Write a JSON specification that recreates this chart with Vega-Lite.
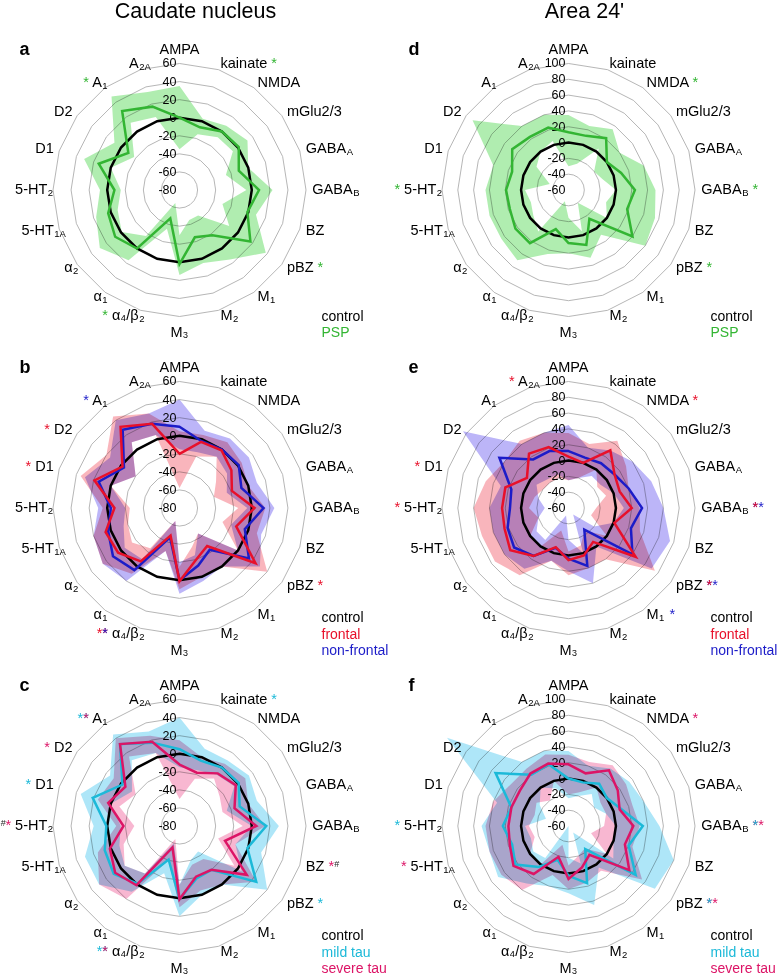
{
"$schema":"https://vega.github.io/schema/vega-lite/v6.json",
"padding":0,
"background":"white",
"config":{"view":{"stroke":null},"text":{"font":"Liberation Sans"}},
"datasets":{"axes":[
{"i":0,"lab":"AMPA","sub":""},{"i":1,"lab":"kainate","sub":""},{"i":2,"lab":"NMDA","sub":""},{"i":3,"lab":"mGlu2/3","sub":""},
{"i":4,"lab":"GABA","sub":"A"},{"i":5,"lab":"GABA","sub":"B"},{"i":6,"lab":"BZ","sub":""},{"i":7,"lab":"pBZ","sub":""},
{"i":8,"lab":"M","sub":"1"},{"i":9,"lab":"M","sub":"2"},{"i":10,"lab":"M\u2083","sub":""},{"i":11,"lab":"\u03b1\u2084/\u03b2","sub":"2"},
{"i":12,"lab":"\u03b1","sub":"1"},{"i":13,"lab":"\u03b1","sub":"2"},{"i":14,"lab":"5-HT","sub":"1A"},{"i":15,"lab":"5-HT","sub":"2"},
{"i":16,"lab":"D1","sub":""},{"i":17,"lab":"D2","sub":""},{"i":18,"lab":"A","sub":"1"},{"i":19,"lab":"A","sub":"2A"}
]},
"data":{"values":[
{"p":"a","s":"control","i":0,"m":0},{"p":"a","s":"control","i":1,"m":0},{"p":"a","s":"control","i":2,"m":0},{"p":"a","s":"control","i":3,"m":0},{"p":"a","s":"control","i":4,"m":0},{"p":"a","s":"control","i":5,"m":0},{"p":"a","s":"control","i":6,"m":0},{"p":"a","s":"control","i":7,"m":0},{"p":"a","s":"control","i":8,"m":0},{"p":"a","s":"control","i":9,"m":0},{"p":"a","s":"control","i":10,"m":0},{"p":"a","s":"control","i":11,"m":0},{"p":"a","s":"control","i":12,"m":0},{"p":"a","s":"control","i":13,"m":0},{"p":"a","s":"control","i":14,"m":0},{"p":"a","s":"control","i":15,"m":0},{"p":"a","s":"control","i":16,"m":0},{"p":"a","s":"control","i":17,"m":0},{"p":"a","s":"control","i":18,"m":0},{"p":"a","s":"control","i":19,"m":0},
{"p":"b","s":"control","i":0,"m":0},{"p":"b","s":"control","i":1,"m":0},{"p":"b","s":"control","i":2,"m":0},{"p":"b","s":"control","i":3,"m":0},{"p":"b","s":"control","i":4,"m":0},{"p":"b","s":"control","i":5,"m":0},{"p":"b","s":"control","i":6,"m":0},{"p":"b","s":"control","i":7,"m":0},{"p":"b","s":"control","i":8,"m":0},{"p":"b","s":"control","i":9,"m":0},{"p":"b","s":"control","i":10,"m":0},{"p":"b","s":"control","i":11,"m":0},{"p":"b","s":"control","i":12,"m":0},{"p":"b","s":"control","i":13,"m":0},{"p":"b","s":"control","i":14,"m":0},{"p":"b","s":"control","i":15,"m":0},{"p":"b","s":"control","i":16,"m":0},{"p":"b","s":"control","i":17,"m":0},{"p":"b","s":"control","i":18,"m":0},{"p":"b","s":"control","i":19,"m":0},
{"p":"c","s":"control","i":0,"m":0},{"p":"c","s":"control","i":1,"m":0},{"p":"c","s":"control","i":2,"m":0},{"p":"c","s":"control","i":3,"m":0},{"p":"c","s":"control","i":4,"m":0},{"p":"c","s":"control","i":5,"m":0},{"p":"c","s":"control","i":6,"m":0},{"p":"c","s":"control","i":7,"m":0},{"p":"c","s":"control","i":8,"m":0},{"p":"c","s":"control","i":9,"m":0},{"p":"c","s":"control","i":10,"m":0},{"p":"c","s":"control","i":11,"m":0},{"p":"c","s":"control","i":12,"m":0},{"p":"c","s":"control","i":13,"m":0},{"p":"c","s":"control","i":14,"m":0},{"p":"c","s":"control","i":15,"m":0},{"p":"c","s":"control","i":16,"m":0},{"p":"c","s":"control","i":17,"m":0},{"p":"c","s":"control","i":18,"m":0},{"p":"c","s":"control","i":19,"m":0},
{"p":"d","s":"control","i":0,"m":0},{"p":"d","s":"control","i":1,"m":0},{"p":"d","s":"control","i":2,"m":0},{"p":"d","s":"control","i":3,"m":0},{"p":"d","s":"control","i":4,"m":0},{"p":"d","s":"control","i":5,"m":0},{"p":"d","s":"control","i":6,"m":0},{"p":"d","s":"control","i":7,"m":0},{"p":"d","s":"control","i":8,"m":0},{"p":"d","s":"control","i":9,"m":0},{"p":"d","s":"control","i":10,"m":0},{"p":"d","s":"control","i":11,"m":0},{"p":"d","s":"control","i":12,"m":0},{"p":"d","s":"control","i":13,"m":0},{"p":"d","s":"control","i":14,"m":0},{"p":"d","s":"control","i":15,"m":0},{"p":"d","s":"control","i":16,"m":0},{"p":"d","s":"control","i":17,"m":0},{"p":"d","s":"control","i":18,"m":0},{"p":"d","s":"control","i":19,"m":0},
{"p":"e","s":"control","i":0,"m":0},{"p":"e","s":"control","i":1,"m":0},{"p":"e","s":"control","i":2,"m":0},{"p":"e","s":"control","i":3,"m":0},{"p":"e","s":"control","i":4,"m":0},{"p":"e","s":"control","i":5,"m":0},{"p":"e","s":"control","i":6,"m":0},{"p":"e","s":"control","i":7,"m":0},{"p":"e","s":"control","i":8,"m":0},{"p":"e","s":"control","i":9,"m":0},{"p":"e","s":"control","i":10,"m":0},{"p":"e","s":"control","i":11,"m":0},{"p":"e","s":"control","i":12,"m":0},{"p":"e","s":"control","i":13,"m":0},{"p":"e","s":"control","i":14,"m":0},{"p":"e","s":"control","i":15,"m":0},{"p":"e","s":"control","i":16,"m":0},{"p":"e","s":"control","i":17,"m":0},{"p":"e","s":"control","i":18,"m":0},{"p":"e","s":"control","i":19,"m":0},
{"p":"f","s":"control","i":0,"m":0},{"p":"f","s":"control","i":1,"m":0},{"p":"f","s":"control","i":2,"m":0},{"p":"f","s":"control","i":3,"m":0},{"p":"f","s":"control","i":4,"m":0},{"p":"f","s":"control","i":5,"m":0},{"p":"f","s":"control","i":6,"m":0},{"p":"f","s":"control","i":7,"m":0},{"p":"f","s":"control","i":8,"m":0},{"p":"f","s":"control","i":9,"m":0},{"p":"f","s":"control","i":10,"m":0},{"p":"f","s":"control","i":11,"m":0},{"p":"f","s":"control","i":12,"m":0},{"p":"f","s":"control","i":13,"m":0},{"p":"f","s":"control","i":14,"m":0},{"p":"f","s":"control","i":15,"m":0},{"p":"f","s":"control","i":16,"m":0},{"p":"f","s":"control","i":17,"m":0},{"p":"f","s":"control","i":18,"m":0},{"p":"f","s":"control","i":19,"m":0},

{"p":"a","s":"PSP","i":0,"m":0,"lo":-35,"hi":35},{"p":"a","s":"PSP","i":1,"m":-7,"lo":-15,"hi":3},{"p":"a","s":"PSP","i":2,"m":0,"lo":-8,"hi":8},{"p":"a","s":"PSP","i":3,"m":1,"lo":-7,"hi":13},{"p":"a","s":"PSP","i":4,"m":-11,"lo":-26,"hi":0},{"p":"a","s":"PSP","i":5,"m":8,"lo":-6,"hi":23},{"p":"a","s":"PSP","i":6,"m":-1,"lo":-30,"hi":9},{"p":"a","s":"PSP","i":7,"m":17,"lo":-12,"hi":38},{"p":"a","s":"PSP","i":8,"m":-18,"lo":-45,"hi":15},{"p":"a","s":"PSP","i":9,"m":-25,"lo":-45,"hi":5},{"p":"a","s":"PSP","i":10,"m":2,"lo":-30,"hi":14},{"p":"a","s":"PSP","i":11,"m":-47,"lo":-65,"hi":-35},{"p":"a","s":"PSP","i":12,"m":0,"lo":-17,"hi":16},{"p":"a","s":"PSP","i":13,"m":8,"lo":-1,"hi":29},{"p":"a","s":"PSP","i":14,"m":3,"lo":-8,"hi":17},{"p":"a","s":"PSP","i":15,"m":-8,"lo":-15,"hi":8},{"p":"a","s":"PSP","i":16,"m":14,"lo":0,"hi":31},{"p":"a","s":"PSP","i":17,"m":-10,"lo":-18,"hi":9},{"p":"a","s":"PSP","i":18,"m":28,"lo":12,"hi":48},{"p":"a","s":"PSP","i":19,"m":17,"lo":5,"hi":34},

{"p":"d","s":"PSP","i":0,"m":13,"lo":-30,"hi":35},{"p":"d","s":"PSP","i":1,"m":12,"lo":-25,"hi":25},{"p":"d","s":"PSP","i":2,"m":21,"lo":5,"hi":35},{"p":"d","s":"PSP","i":3,"m":0,"lo":-20,"hi":20},{"p":"d","s":"PSP","i":4,"m":10,"lo":-15,"hi":40},{"p":"d","s":"PSP","i":5,"m":24,"lo":0,"hi":50},{"p":"d","s":"PSP","i":6,"m":18,"lo":-10,"hi":55},{"p":"d","s":"PSP","i":7,"m":40,"lo":0,"hi":60},{"p":"d","s":"PSP","i":8,"m":-15,"lo":-40,"hi":10},{"p":"d","s":"PSP","i":9,"m":13,"lo":-5,"hi":30},{"p":"d","s":"PSP","i":10,"m":7,"lo":-25,"hi":20},{"p":"d","s":"PSP","i":11,"m":-8,"lo":-45,"hi":25},{"p":"d","s":"PSP","i":12,"m":23,"lo":5,"hi":50},{"p":"d","s":"PSP","i":13,"m":23,"lo":-5,"hi":45},{"p":"d","s":"PSP","i":14,"m":18,"lo":-10,"hi":45},{"p":"d","s":"PSP","i":15,"m":19,"lo":-5,"hi":45},{"p":"d","s":"PSP","i":16,"m":15,"lo":-35,"hi":40},{"p":"d","s":"PSP","i":17,"m":28,"lo":-10,"hi":90},{"p":"d","s":"PSP","i":18,"m":23,"lo":0,"hi":40},{"p":"d","s":"PSP","i":19,"m":23,"lo":5,"hi":40},

{"p":"b","s":"frontal","i":0,"m":-20,"lo":-58,"hi":5},{"p":"b","s":"frontal","i":1,"m":-3,"lo":-20,"hi":5},{"p":"b","s":"frontal","i":2,"m":-1,"lo":-10,"hi":10},{"p":"b","s":"frontal","i":3,"m":-9,"lo":-30,"hi":5},{"p":"b","s":"frontal","i":4,"m":-19,"lo":-40,"hi":0},{"p":"b","s":"frontal","i":5,"m":3,"lo":-15,"hi":15},{"p":"b","s":"frontal","i":6,"m":-14,"lo":-30,"hi":10},{"p":"b","s":"frontal","i":7,"m":24,"lo":0,"hi":40},{"p":"b","s":"frontal","i":8,"m":-28,"lo":-45,"hi":0},{"p":"b","s":"frontal","i":9,"m":-20,"lo":-35,"hi":0},{"p":"b","s":"frontal","i":10,"m":1,"lo":-15,"hi":10},{"p":"b","s":"frontal","i":11,"m":-48,"lo":-65,"hi":-30},{"p":"b","s":"frontal","i":12,"m":-7,"lo":-25,"hi":10},{"p":"b","s":"frontal","i":13,"m":4,"lo":-15,"hi":25},{"p":"b","s":"frontal","i":14,"m":6,"lo":-20,"hi":20},{"p":"b","s":"frontal","i":15,"m":-8,"lo":-25,"hi":5},{"p":"b","s":"frontal","i":16,"m":19,"lo":0,"hi":35},{"p":"b","s":"frontal","i":17,"m":-2,"lo":-20,"hi":20},{"p":"b","s":"frontal","i":18,"m":31,"lo":10,"hi":45},{"p":"b","s":"frontal","i":19,"m":18,"lo":5,"hi":30},

{"p":"b","s":"non-frontal","i":0,"m":10,"lo":-15,"hi":40},{"p":"b","s":"non-frontal","i":1,"m":-2,"lo":-15,"hi":10},{"p":"b","s":"non-frontal","i":2,"m":0,"lo":-10,"hi":15},{"p":"b","s":"non-frontal","i":3,"m":1,"lo":-15,"hi":15},{"p":"b","s":"non-frontal","i":4,"m":-8,"lo":-25,"hi":10},{"p":"b","s":"non-frontal","i":5,"m":13,"lo":-5,"hi":25},{"p":"b","s":"non-frontal","i":6,"m":-4,"lo":-20,"hi":15},{"p":"b","s":"non-frontal","i":7,"m":15,"lo":0,"hi":30},{"p":"b","s":"non-frontal","i":8,"m":-23,"lo":-45,"hi":0},{"p":"b","s":"non-frontal","i":9,"m":-13,"lo":-25,"hi":5},{"p":"b","s":"non-frontal","i":10,"m":0,"lo":-20,"hi":15},{"p":"b","s":"non-frontal","i":11,"m":-46,"lo":-65,"hi":-30},{"p":"b","s":"non-frontal","i":12,"m":5,"lo":-10,"hi":20},{"p":"b","s":"non-frontal","i":13,"m":11,"lo":-5,"hi":25},{"p":"b","s":"non-frontal","i":14,"m":3,"lo":-15,"hi":20},{"p":"b","s":"non-frontal","i":15,"m":-4,"lo":-20,"hi":10},{"p":"b","s":"non-frontal","i":16,"m":14,"lo":0,"hi":30},{"p":"b","s":"non-frontal","i":17,"m":-4,"lo":-20,"hi":15},{"p":"b","s":"non-frontal","i":18,"m":27,"lo":10,"hi":40},{"p":"b","s":"non-frontal","i":19,"m":18,"lo":5,"hi":30},

{"p":"e","s":"frontal","i":0,"m":5,"lo":-25,"hi":35},{"p":"e","s":"frontal","i":1,"m":0,"lo":-20,"hi":25},{"p":"e","s":"frontal","i":2,"m":30,"lo":0,"hi":45},{"p":"e","s":"frontal","i":3,"m":12,"lo":-15,"hi":30},{"p":"e","s":"frontal","i":4,"m":8,"lo":-10,"hi":20},{"p":"e","s":"frontal","i":5,"m":20,"lo":-25,"hi":30},{"p":"e","s":"frontal","i":6,"m":1,"lo":-30,"hi":35},{"p":"e","s":"frontal","i":7,"m":45,"lo":0,"hi":75},{"p":"e","s":"frontal","i":8,"m":-7,"lo":-25,"hi":20},{"p":"e","s":"frontal","i":9,"m":3,"lo":-10,"hi":20},{"p":"e","s":"frontal","i":10,"m":6,"lo":-5,"hi":25},{"p":"e","s":"frontal","i":11,"m":-8,"lo":-30,"hi":10},{"p":"e","s":"frontal","i":12,"m":15,"lo":0,"hi":45},{"p":"e","s":"frontal","i":13,"m":31,"lo":0,"hi":55},{"p":"e","s":"frontal","i":14,"m":25,"lo":-20,"hi":55},{"p":"e","s":"frontal","i":15,"m":24,"lo":-10,"hi":60},{"p":"e","s":"frontal","i":16,"m":24,"lo":-15,"hi":50},{"p":"e","s":"frontal","i":17,"m":5,"lo":-20,"hi":40},{"p":"e","s":"frontal","i":18,"m":25,"lo":-20,"hi":45},{"p":"e","s":"frontal","i":19,"m":21,"lo":-20,"hi":40},

{"p":"e","s":"non-frontal","i":0,"m":12,"lo":-25,"hi":45},{"p":"e","s":"non-frontal","i":1,"m":7,"lo":-20,"hi":20},{"p":"e","s":"non-frontal","i":2,"m":10,"lo":-10,"hi":30},{"p":"e","s":"non-frontal","i":3,"m":12,"lo":-10,"hi":40},{"p":"e","s":"non-frontal","i":4,"m":20,"lo":0,"hi":50},{"p":"e","s":"non-frontal","i":5,"m":33,"lo":10,"hi":60},{"p":"e","s":"non-frontal","i":6,"m":23,"lo":0,"hi":75},{"p":"e","s":"non-frontal","i":7,"m":40,"lo":-20,"hi":70},{"p":"e","s":"non-frontal","i":8,"m":-26,"lo":-50,"hi":0},{"p":"e","s":"non-frontal","i":9,"m":17,"lo":0,"hi":40},{"p":"e","s":"non-frontal","i":10,"m":4,"lo":-20,"hi":20},{"p":"e","s":"non-frontal","i":11,"m":-7,"lo":-50,"hi":10},{"p":"e","s":"non-frontal","i":12,"m":15,"lo":-10,"hi":35},{"p":"e","s":"non-frontal","i":13,"m":25,"lo":-10,"hi":40},{"p":"e","s":"non-frontal","i":14,"m":21,"lo":-20,"hi":40},{"p":"e","s":"non-frontal","i":15,"m":14,"lo":-30,"hi":40},{"p":"e","s":"non-frontal","i":16,"m":16,"lo":-20,"hi":30},{"p":"e","s":"non-frontal","i":17,"m":48,"lo":-10,"hi":105},{"p":"e","s":"non-frontal","i":18,"m":16,"lo":-15,"hi":40},{"p":"e","s":"non-frontal","i":19,"m":16,"lo":-15,"hi":40},

{"p":"c","s":"mild tau","i":0,"m":5,"lo":-15,"hi":40},{"p":"c","s":"mild tau","i":1,"m":-4,"lo":-15,"hi":10},{"p":"c","s":"mild tau","i":2,"m":0,"lo":-10,"hi":10},{"p":"c","s":"mild tau","i":3,"m":1,"lo":-5,"hi":15},{"p":"c","s":"mild tau","i":4,"m":-10,"lo":-25,"hi":10},{"p":"c","s":"mild tau","i":5,"m":16,"lo":0,"hi":30},{"p":"c","s":"mild tau","i":6,"m":-1,"lo":-15,"hi":15},{"p":"c","s":"mild tau","i":7,"m":25,"lo":5,"hi":40},{"p":"c","s":"mild tau","i":8,"m":-20,"lo":-45,"hi":0},{"p":"c","s":"mild tau","i":9,"m":-19,"lo":-40,"hi":0},{"p":"c","s":"mild tau","i":10,"m":1,"lo":-15,"hi":20},{"p":"c","s":"mild tau","i":11,"m":-41,"lo":-60,"hi":-25},{"p":"c","s":"mild tau","i":12,"m":-1,"lo":-15,"hi":10},{"p":"c","s":"mild tau","i":13,"m":10,"lo":-5,"hi":30},{"p":"c","s":"mild tau","i":14,"m":7,"lo":-10,"hi":30},{"p":"c","s":"mild tau","i":15,"m":1,"lo":-15,"hi":15},{"p":"c","s":"mild tau","i":16,"m":21,"lo":0,"hi":35},{"p":"c","s":"mild tau","i":17,"m":-2,"lo":-15,"hi":15},{"p":"c","s":"mild tau","i":18,"m":32,"lo":10,"hi":45},{"p":"c","s":"mild tau","i":19,"m":17,"lo":5,"hi":30},

{"p":"c","s":"severe tau","i":0,"m":-12,"lo":-50,"hi":15},{"p":"c","s":"severe tau","i":1,"m":-18,"lo":-25,"hi":0},{"p":"c","s":"severe tau","i":2,"m":-8,"lo":-15,"hi":5},{"p":"c","s":"severe tau","i":3,"m":-3,"lo":-25,"hi":10},{"p":"c","s":"severe tau","i":4,"m":-16,"lo":-30,"hi":0},{"p":"c","s":"severe tau","i":5,"m":5,"lo":-10,"hi":15},{"p":"c","s":"severe tau","i":6,"m":-27,"lo":-35,"hi":-15},{"p":"c","s":"severe tau","i":7,"m":12,"lo":-5,"hi":25},{"p":"c","s":"severe tau","i":8,"m":-20,"lo":-35,"hi":0},{"p":"c","s":"severe tau","i":9,"m":-21,"lo":-35,"hi":-5},{"p":"c","s":"severe tau","i":10,"m":1,"lo":-15,"hi":10},{"p":"c","s":"severe tau","i":11,"m":-55,"lo":-65,"hi":-40},{"p":"c","s":"severe tau","i":12,"m":1,"lo":-15,"hi":20},{"p":"c","s":"severe tau","i":13,"m":8,"lo":-5,"hi":30},{"p":"c","s":"severe tau","i":14,"m":1,"lo":-15,"hi":15},{"p":"c","s":"severe tau","i":15,"m":-18,"lo":-30,"hi":-10},{"p":"c","s":"severe tau","i":16,"m":3,"lo":-10,"hi":15},{"p":"c","s":"severe tau","i":17,"m":-6,"lo":-20,"hi":10},{"p":"c","s":"severe tau","i":18,"m":32,"lo":15,"hi":40},{"p":"c","s":"severe tau","i":19,"m":18,"lo":5,"hi":25},

{"p":"f","s":"mild tau","i":0,"m":0,"lo":-25,"hi":35},{"p":"f","s":"mild tau","i":1,"m":-2,"lo":-20,"hi":20},{"p":"f","s":"mild tau","i":2,"m":6,"lo":-10,"hi":30},{"p":"f","s":"mild tau","i":3,"m":0,"lo":-20,"hi":35},{"p":"f","s":"mild tau","i":4,"m":10,"lo":-10,"hi":40},{"p":"f","s":"mild tau","i":5,"m":34,"lo":0,"hi":55},{"p":"f","s":"mild tau","i":6,"m":20,"lo":0,"hi":80},{"p":"f","s":"mild tau","i":7,"m":45,"lo":10,"hi":75},{"p":"f","s":"mild tau","i":8,"m":-24,"lo":-50,"hi":5},{"p":"f","s":"mild tau","i":9,"m":16,"lo":-10,"hi":45},{"p":"f","s":"mild tau","i":10,"m":3,"lo":-20,"hi":25},{"p":"f","s":"mild tau","i":11,"m":-15,"lo":-60,"hi":20},{"p":"f","s":"mild tau","i":12,"m":4,"lo":-10,"hi":30},{"p":"f","s":"mild tau","i":13,"m":23,"lo":-5,"hi":50},{"p":"f","s":"mild tau","i":14,"m":15,"lo":-10,"hi":45},{"p":"f","s":"mild tau","i":15,"m":23,"lo":-5,"hi":50},{"p":"f","s":"mild tau","i":16,"m":16,"lo":-30,"hi":35},{"p":"f","s":"mild tau","i":17,"m":54,"lo":-15,"hi":130},{"p":"f","s":"mild tau","i":18,"m":20,"lo":0,"hi":40},{"p":"f","s":"mild tau","i":19,"m":22,"lo":-10,"hi":40},

{"p":"f","s":"severe tau","i":0,"m":18,"lo":-20,"hi":30},{"p":"f","s":"severe tau","i":1,"m":10,"lo":-15,"hi":25},{"p":"f","s":"severe tau","i":2,"m":27,"lo":0,"hi":35},{"p":"f","s":"severe tau","i":3,"m":17,"lo":-10,"hi":30},{"p":"f","s":"severe tau","i":4,"m":8,"lo":-10,"hi":25},{"p":"f","s":"severe tau","i":5,"m":22,"lo":-15,"hi":30},{"p":"f","s":"severe tau","i":6,"m":15,"lo":-30,"hi":25},{"p":"f","s":"severe tau","i":7,"m":35,"lo":0,"hi":55},{"p":"f","s":"severe tau","i":8,"m":-15,"lo":-25,"hi":10},{"p":"f","s":"severe tau","i":9,"m":-5,"lo":-20,"hi":15},{"p":"f","s":"severe tau","i":10,"m":7,"lo":-10,"hi":20},{"p":"f","s":"severe tau","i":11,"m":-19,"lo":-35,"hi":5},{"p":"f","s":"severe tau","i":12,"m":15,"lo":0,"hi":40},{"p":"f","s":"severe tau","i":13,"m":26,"lo":0,"hi":45},{"p":"f","s":"severe tau","i":14,"m":18,"lo":-15,"hi":45},{"p":"f","s":"severe tau","i":15,"m":16,"lo":-10,"hi":45},{"p":"f","s":"severe tau","i":16,"m":16,"lo":-15,"hi":40},{"p":"f","s":"severe tau","i":17,"m":16,"lo":-10,"hi":30},{"p":"f","s":"severe tau","i":18,"m":22,"lo":-20,"hi":30},{"p":"f","s":"severe tau","i":19,"m":23,"lo":0,"hi":35},

{"p":"a","i":1,"mk":"*","s":"PSP"},{"p":"a","i":18,"mk":"*","s":"PSP"},{"p":"a","i":7,"mk":"*","s":"PSP"},{"p":"a","i":11,"mk":"*","s":"PSP"},
{"p":"d","i":2,"mk":"*","s":"PSP"},{"p":"d","i":15,"mk":"*","s":"PSP"},{"p":"d","i":5,"mk":"*","s":"PSP"},{"p":"d","i":7,"mk":"*","s":"PSP"},
{"p":"b","i":18,"mk":"*","s":"non-frontal"},{"p":"b","i":17,"mk":"*","s":"frontal"},{"p":"b","i":16,"mk":"*","s":"frontal"},{"p":"b","i":7,"mk":"*","s":"frontal"},{"p":"b","i":11,"mk":"**","s":"frontal"},{"p":"b","i":11,"mk":"*","s":"non-frontal"},
{"p":"e","i":19,"mk":"*","s":"frontal"},{"p":"e","i":2,"mk":"*","s":"frontal"},{"p":"e","i":16,"mk":"*","s":"frontal"},{"p":"e","i":15,"mk":"*","s":"frontal"},{"p":"e","i":5,"mk":"**","s":"non-frontal"},{"p":"e","i":5,"mk":"*","s":"frontal"},{"p":"e","i":7,"mk":"**","s":"non-frontal"},{"p":"e","i":7,"mk":"*","s":"frontal"},{"p":"e","i":8,"mk":"*","s":"non-frontal"},
{"p":"c","i":1,"mk":"*","s":"mild tau"},{"p":"c","i":18,"mk":"**","s":"mild tau"},{"p":"c","i":18,"mk":"*","s":"severe tau"},{"p":"c","i":17,"mk":"*","s":"severe tau"},{"p":"c","i":16,"mk":"*","s":"mild tau"},{"p":"c","i":15,"mk":"#","s":"hash"},{"p":"c","i":15,"mk":"*","s":"severe tau"},{"p":"c","i":6,"mk":"#","s":"hash"},{"p":"c","i":6,"mk":"*","s":"severe tau"},{"p":"c","i":7,"mk":"*","s":"mild tau"},{"p":"c","i":11,"mk":"**","s":"mild tau"},{"p":"c","i":11,"mk":"*","s":"severe tau"},
{"p":"f","i":2,"mk":"*","s":"severe tau"},{"p":"f","i":15,"mk":"*","s":"mild tau"},{"p":"f","i":14,"mk":"*","s":"severe tau"},{"p":"f","i":5,"mk":"**","s":"severe tau"},{"p":"f","i":5,"mk":"*","s":"mild tau"},{"p":"f","i":7,"mk":"**","s":"severe tau"},{"p":"f","i":7,"mk":"*","s":"mild tau"},

{"p":"a","k":1,"name":"control","s":"control"},{"p":"a","k":0,"name":"PSP","s":"PSP"},
{"p":"d","k":1,"name":"control","s":"control"},{"p":"d","k":0,"name":"PSP","s":"PSP"},
{"p":"b","k":2,"name":"control","s":"control"},{"p":"b","k":1,"name":"frontal","s":"frontal"},{"p":"b","k":0,"name":"non-frontal","s":"non-frontal"},
{"p":"e","k":2,"name":"control","s":"control"},{"p":"e","k":1,"name":"frontal","s":"frontal"},{"p":"e","k":0,"name":"non-frontal","s":"non-frontal"},
{"p":"c","k":2,"name":"control","s":"control"},{"p":"c","k":1,"name":"mild tau","s":"mild tau"},{"p":"c","k":0,"name":"severe tau","s":"severe tau"},
{"p":"f","k":2,"name":"control","s":"control"},{"p":"f","k":1,"name":"mild tau","s":"mild tau"},{"p":"f","k":0,"name":"severe tau","s":"severe tau"},

{"p":"a","tv":-80},{"p":"a","tv":-60},{"p":"a","tv":-40},{"p":"a","tv":-20},{"p":"a","tv":0},{"p":"a","tv":20},{"p":"a","tv":40},{"p":"a","tv":60},
{"p":"b","tv":-80},{"p":"b","tv":-60},{"p":"b","tv":-40},{"p":"b","tv":-20},{"p":"b","tv":0},{"p":"b","tv":20},{"p":"b","tv":40},{"p":"b","tv":60},
{"p":"c","tv":-80},{"p":"c","tv":-60},{"p":"c","tv":-40},{"p":"c","tv":-20},{"p":"c","tv":0},{"p":"c","tv":20},{"p":"c","tv":40},{"p":"c","tv":60},
{"p":"d","tv":-60},{"p":"d","tv":-40},{"p":"d","tv":-20},{"p":"d","tv":0},{"p":"d","tv":20},{"p":"d","tv":40},{"p":"d","tv":60},{"p":"d","tv":80},{"p":"d","tv":100},
{"p":"e","tv":-60},{"p":"e","tv":-40},{"p":"e","tv":-20},{"p":"e","tv":0},{"p":"e","tv":20},{"p":"e","tv":40},{"p":"e","tv":60},{"p":"e","tv":80},{"p":"e","tv":100},
{"p":"f","tv":-60},{"p":"f","tv":-40},{"p":"f","tv":-20},{"p":"f","tv":0},{"p":"f","tv":20},{"p":"f","tv":40},{"p":"f","tv":60},{"p":"f","tv":80},{"p":"f","tv":100},

{"p":"a","let":"a"},{"p":"b","let":"b"},{"p":"c","let":"c"},{"p":"d","let":"d"},{"p":"e","let":"e"},{"p":"f","let":"f"}
]},
"transform":[
{"lookup":"i","from":{"data":{"name":"axes"},"key":"i","fields":["lab","sub"]}},
{"calculate":"indexof(['a','b','c'], datum.p) >= 0 ? 'Caudate nucleus' : \"Area 24'\"","as":"col"},
{"calculate":"indexof(['a','d'], datum.p) >= 0 ? 1 : (indexof(['b','e'], datum.p) >= 0 ? 2 : 3)","as":"row"},
{"calculate":"datum.col == 'Caudate nucleus' ? -80 : -60","as":"vmin"},
{"calculate":"datum.col == 'Caudate nucleus' ? 140 : 160","as":"rng"}
],
"facet":{
 "column":{"field":"col","type":"nominal","sort":["Caudate nucleus","Area 24'"],"header":{"title":null,"labelFontSize":21.5,"labelFont":"Liberation Sans","labelColor":"black","labelPadding":9}},
 "row":{"field":"row","type":"ordinal","header":{"title":null,"labels":false}}
},
"spacing":{"row":0,"column":0},
"bounds":"flush",
"spec":{
 "width":389,"height":318,
 "encoding":{
  "x":{"field":"x","type":"quantitative","scale":{"domain":[-1.4111,1.664],"nice":false,"zero":false},"axis":null},
  "y":{"field":"y","type":"quantitative","scale":{"domain":[-1.2569,1.2569],"nice":false,"zero":false},"axis":null}
 },
 "layer":[
  {"transform":[{"filter":"datum.s=='control' && isValid(datum.m)"},{"calculate":"sin(datum.i*PI/10)","as":"sx"},{"calculate":"cos(datum.i*PI/10)","as":"sy"}],
   "mark":{"type":"rule","stroke":"#a3a3a3","strokeWidth":0.8},
   "encoding":{"x":{"datum":0,"type":"quantitative"},"y":{"datum":0,"type":"quantitative"},"x2":{"field":"sx"},"y2":{"field":"sy"}}},
  {"transform":[{"filter":"datum.s=='control' && isValid(datum.m)"},{"calculate":"datum.vmin == -80 ? [-60,-40,-20,0,20,40,60] : [-40,-20,0,20,40,60,80,100]","as":"rv"},{"flatten":["rv"]},{"calculate":"(datum.rv-datum.vmin)/datum.rng*sin(datum.i*PI/10)","as":"x"},{"calculate":"(datum.rv-datum.vmin)/datum.rng*cos(datum.i*PI/10)","as":"y"}],
   "mark":{"type":"line","interpolate":"linear-closed","stroke":"#a3a3a3","strokeWidth":0.8},
   "encoding":{"detail":{"field":"rv","type":"nominal"},"order":{"field":"i","type":"quantitative"}}},
  {"transform":[{"filter":"isValid(datum.lo)"},{"calculate":"datum.i == 0 ? [0, 20] : [datum.i]","as":"j"},{"flatten":["j"]},{"fold":["lo","hi"],"as":["bk","bv"]},{"calculate":"datum.bk == 'hi' ? datum.j : 41 - datum.j","as":"ord"},{"calculate":"(datum.bv-datum.vmin)/datum.rng*sin(datum.j*PI/10)","as":"x"},{"calculate":"(datum.bv-datum.vmin)/datum.rng*cos(datum.j*PI/10)","as":"y"}],
   "mark":{"type":"line","interpolate":"linear-closed","filled":true,"strokeWidth":0,"fillOpacity":0.45,"blend":"multiply"},
   "encoding":{"fill":{"field":"s","type":"nominal","scale":{"domain":["PSP","frontal","non-frontal","mild tau","severe tau"],"range":["#4fd64f","#f25a6a","#6a5af0","#4cc8f0","#f0609a"]},"legend":null},"detail":{"field":"s","type":"nominal"},"order":{"field":"ord","type":"quantitative"}}},
  {"transform":[{"filter":"isValid(datum.tv)"},{"calculate":"0","as":"x"},{"calculate":"(datum.tv-datum.vmin)/datum.rng","as":"y"},{"calculate":"'' + datum.tv","as":"tl"}],
   "mark":{"type":"text","align":"right","baseline":"middle","dx":-3,"fontSize":12.5,"fill":"black"},
   "encoding":{"text":{"field":"tl","type":"nominal"}}},
  {"transform":[{"filter":"datum.s=='control' && isValid(datum.m)"},{"calculate":"(datum.m-datum.vmin)/datum.rng*sin(datum.i*PI/10)","as":"x"},{"calculate":"(datum.m-datum.vmin)/datum.rng*cos(datum.i*PI/10)","as":"y"}],
   "mark":{"type":"line","interpolate":"linear-closed","stroke":"black","strokeWidth":2.5},
   "encoding":{"order":{"field":"i","type":"quantitative"}}},
  {"transform":[{"filter":"isValid(datum.lo) && indexof(['PSP','non-frontal','mild tau'], datum.s) >= 0"},{"calculate":"(datum.m-datum.vmin)/datum.rng*sin(datum.i*PI/10)","as":"x"},{"calculate":"(datum.m-datum.vmin)/datum.rng*cos(datum.i*PI/10)","as":"y"}],
   "mark":{"type":"line","interpolate":"linear-closed","strokeWidth":2.5},
   "encoding":{"color":{"field":"s","type":"nominal","scale":{"domain":["control","PSP","frontal","non-frontal","mild tau","severe tau","hash"],"range":["#000000","#33b533","#e8102a","#1c1cc8","#1cb9d8","#dc1466","#000000"]},"legend":null},"order":{"field":"i","type":"quantitative"}}},
  {"transform":[{"filter":"isValid(datum.lo) && indexof(['frontal','severe tau'], datum.s) >= 0"},{"calculate":"(datum.m-datum.vmin)/datum.rng*sin(datum.i*PI/10)","as":"x"},{"calculate":"(datum.m-datum.vmin)/datum.rng*cos(datum.i*PI/10)","as":"y"}],
   "mark":{"type":"line","interpolate":"linear-closed","strokeWidth":2.5},
   "encoding":{"color":{"field":"s","type":"nominal","scale":{"domain":["control","PSP","frontal","non-frontal","mild tau","severe tau","hash"],"range":["#000000","#33b533","#e8102a","#1c1cc8","#1cb9d8","#dc1466","#000000"]},"legend":null},"order":{"field":"i","type":"quantitative"}}},

  {"transform":[{"filter":"isValid(datum.mk) && datum.mk != '#' && datum.i > 10"},{"calculate":"datum.mk + ' ' + datum.lab","as":"tt"},{"calculate":"1.045*sin(datum.i*PI/10)","as":"x"},{"calculate":"1.045*cos(datum.i*PI/10)","as":"y"}],
   "mark":{"type":"text","align":"right","baseline":"middle","fontSize":14.5},
   "encoding":{"text":{"field":"tt","type":"nominal"},"color":{"field":"s","type":"nominal","scale":{"domain":["control","PSP","frontal","non-frontal","mild tau","severe tau","hash"],"range":["#000000","#33b533","#e8102a","#1c1cc8","#1cb9d8","#dc1466","#000000"]},"legend":null}}},
  {"transform":[{"filter":"isValid(datum.mk) && datum.mk != '#' && datum.i > 0 && datum.i < 10"},{"calculate":"datum.lab + (datum.sub != '' ? '\u00a0\u2009' : '') + ' ' + datum.mk","as":"tt"},{"calculate":"1.05*sin(datum.i*PI/10)","as":"x"},{"calculate":"1.05*cos(datum.i*PI/10)","as":"y"}],
   "mark":{"type":"text","align":"left","baseline":"middle","fontSize":14.5},
   "encoding":{"text":{"field":"tt","type":"nominal"},"color":{"field":"s","type":"nominal","scale":{"domain":["control","PSP","frontal","non-frontal","mild tau","severe tau","hash"],"range":["#000000","#33b533","#e8102a","#1c1cc8","#1cb9d8","#dc1466","#000000"]},"legend":null}}},
  {"transform":[{"filter":"isValid(datum.mk) && datum.mk != '#' && datum.i > 10"},{"calculate":"1.045*sin(datum.i*PI/10)","as":"x"},{"calculate":"1.045*cos(datum.i*PI/10)","as":"y"}],
   "mark":{"type":"text","align":"right","baseline":"middle","fontSize":14.5,"fill":"white","stroke":"white","strokeWidth":2},
   "encoding":{"text":{"field":"lab","type":"nominal"}}},
  {"transform":[{"filter":"isValid(datum.mk) && datum.mk != '#' && datum.i > 0 && datum.i < 10"},{"calculate":"1.05*sin(datum.i*PI/10)","as":"x"},{"calculate":"1.05*cos(datum.i*PI/10)","as":"y"}],
   "mark":{"type":"text","align":"left","baseline":"middle","fontSize":14.5,"fill":"white","stroke":"white","strokeWidth":2},
   "encoding":{"text":{"field":"lab","type":"nominal"}}},
  {"transform":[{"filter":"datum.mk == '#' && datum.i > 10"},{"calculate":"1.045*sin(datum.i*PI/10)","as":"x"},{"calculate":"1.045*cos(datum.i*PI/10)","as":"y"}],
   "mark":{"type":"text","align":"right","baseline":"middle","dx":-41.5,"dy":-3,"fontSize":9,"fill":"#222222"},
   "encoding":{"text":{"field":"mk","type":"nominal"}}},
  {"transform":[{"filter":"datum.mk == '#' && datum.i < 10"},{"calculate":"1.05*sin(datum.i*PI/10)","as":"x"},{"calculate":"1.05*cos(datum.i*PI/10)","as":"y"}],
   "mark":{"type":"text","align":"left","baseline":"middle","dx":28.5,"dy":-3,"fontSize":9,"fill":"#222222"},
   "encoding":{"text":{"field":"mk","type":"nominal"}}},

  {"transform":[{"filter":"datum.s=='control' && isValid(datum.m) && datum.i > 0 && datum.i < 10"},{"calculate":"1.05*sin(datum.i*PI/10)","as":"x"},{"calculate":"1.05*cos(datum.i*PI/10)","as":"y"}],
   "mark":{"type":"text","align":"left","baseline":"middle","fontSize":14.5,"fill":"black"},
   "encoding":{"text":{"field":"lab","type":"nominal"}}},
  {"transform":[{"filter":"datum.s=='control' && isValid(datum.m) && datum.i > 10"},{"calculate":"1.045*sin(datum.i*PI/10)","as":"x"},{"calculate":"1.045*cos(datum.i*PI/10)","as":"y"}],
   "mark":{"type":"text","align":"right","baseline":"middle","fontSize":14.5,"fill":"black"},
   "encoding":{"text":{"field":"lab","type":"nominal"}}},
  {"transform":[{"filter":"datum.s=='control' && isValid(datum.m) && (datum.i == 0 || datum.i == 10)"},{"calculate":"0","as":"x"},{"calculate":"datum.i == 0 ? 1.105 : -1.13","as":"y"}],
   "mark":{"type":"text","align":"center","baseline":"middle","fontSize":14.5,"fill":"black"},
   "encoding":{"text":{"field":"lab","type":"nominal"}}},
  {"transform":[{"filter":"datum.s=='control' && isValid(datum.m) && datum.i > 10 && datum.sub != ''"},{"calculate":"1.045*sin(datum.i*PI/10)","as":"x"},{"calculate":"1.045*cos(datum.i*PI/10)","as":"y"}],
   "mark":{"type":"text","align":"left","baseline":"alphabetic","dx":0.5,"dy":6,"fontSize":9.5,"fill":"black"},
   "encoding":{"text":{"field":"sub","type":"nominal"}}},
  {"transform":[{"filter":"datum.s=='control' && isValid(datum.m) && (datum.i == 4 || datum.i == 5)"},{"calculate":"1.05*sin(datum.i*PI/10)","as":"x"},{"calculate":"1.05*cos(datum.i*PI/10)","as":"y"}],
   "mark":{"type":"text","align":"left","baseline":"alphabetic","dx":40.8,"dy":6,"fontSize":9.5,"fill":"black"},
   "encoding":{"text":{"field":"sub","type":"nominal"}}},
  {"transform":[{"filter":"datum.s=='control' && isValid(datum.m) && (datum.i == 8 || datum.i == 9)"},{"calculate":"1.05*sin(datum.i*PI/10)","as":"x"},{"calculate":"1.05*cos(datum.i*PI/10)","as":"y"}],
   "mark":{"type":"text","align":"left","baseline":"alphabetic","dx":12.4,"dy":6,"fontSize":9.5,"fill":"black"},
   "encoding":{"text":{"field":"sub","type":"nominal"}}},

  {"transform":[{"filter":"isValid(datum.name)"},{"calculate":"1.1225","as":"x"},{"calculate":"-(143 - 16.5*datum.k)/126.5","as":"y"}],
   "mark":{"type":"text","align":"left","baseline":"middle","fontSize":14},
   "encoding":{"text":{"field":"name","type":"nominal"},"color":{"field":"s","type":"nominal","scale":{"domain":["control","PSP","frontal","non-frontal","mild tau","severe tau","hash"],"range":["#000000","#33b533","#e8102a","#1c1cc8","#1cb9d8","#dc1466","#000000"]},"legend":null}}},
  {"transform":[{"filter":"isValid(datum.let)"},{"calculate":"-1.265","as":"x"},{"calculate":"1.067","as":"y"}],
   "mark":{"type":"text","align":"left","baseline":"alphabetic","fontSize":18,"fontWeight":"bold","fill":"black"},
   "encoding":{"text":{"field":"let","type":"nominal"}}}
 ]
}
}
